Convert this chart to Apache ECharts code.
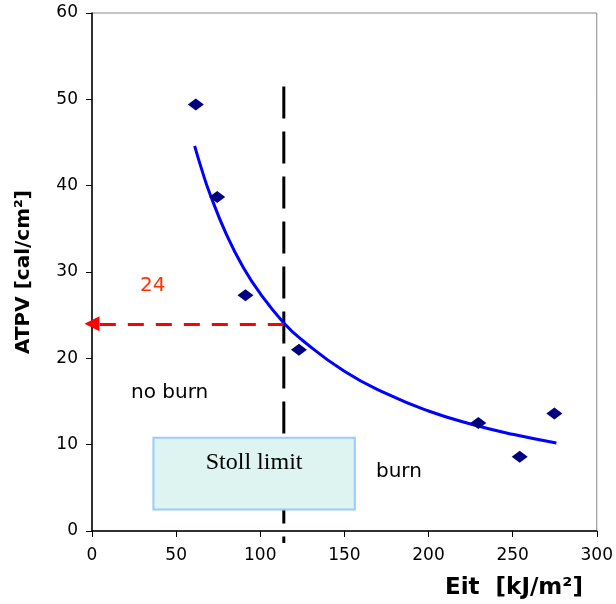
<!DOCTYPE html>
<html>
<head>
<meta charset="utf-8">
<script src="https://cdn.jsdelivr.net/npm/echarts@6/dist/echarts.min.js"></script>
<style>
  html, body { margin: 0; padding: 0; background: #fff; }
  #main { width: 616px; height: 604px; }
</style>
</head>
<body>
<div id="main"></div>
<script>
// measured points (Eit, ATPV)
var eitValues = [61.7, 74.4, 91.2, 123, 229.6, 254.2, 274.8];
var atpvValues = [49.4, 38.7, 27.3, 21.0, 12.5, 8.6, 13.6];

// fitted trend line
var fitX = [61, 65, 70, 80, 90, 100, 114, 125, 150, 175, 200, 225, 250, 276];
var fitY = [44.6, 42.0, 39.1, 34.3, 30.5, 27.5, 24.1, 22.1, 18.5, 15.9, 13.9, 12.4, 11.2, 10.2];

// Stoll limit reference
var stollX = [114, 114];
var stollY = [51.5, -1.4];
var atpvAtLimit = 24;
var stollBox = [[36.5, 10.8], [156.2, 2.5]];

var xTicks = [0, 300, 50];
var yTicks = [0, 60, 10];

var sans = 'DejaVu Sans';

var myChart = echarts.init(document.getElementById('main'));

myChart.setOption({
    animation: false,
    grid: {
        left: 92, right: 16, top: 13, bottom: 73,
        show: true, borderColor: '#888', borderWidth: 1
    },
    xAxis: {
        type: 'value',
        min: xTicks[0], max: xTicks[1], interval: xTicks[2],
        splitLine: { show: false },
        axisLine: { lineStyle: { color: '#000', width: 1.5 } },
        axisTick: { length: 6, lineStyle: { color: '#000' } },
        axisLabel: { color: '#000', fontFamily: sans, fontSize: 17, margin: 16 }
    },
    yAxis: {
        type: 'value',
        min: yTicks[0], max: yTicks[1], interval: yTicks[2],
        name: 'ATPV [cal/cm²]',
        nameLocation: 'middle',
        nameGap: 58,
        nameTextStyle: { color: '#000', fontFamily: sans, fontWeight: 'bold', fontSize: 20 },
        splitLine: { show: false },
        axisLine: { lineStyle: { color: '#000', width: 1.5 } },
        axisTick: { length: 6, lineStyle: { color: '#000' } },
        axisLabel: { color: '#000', fontFamily: sans, fontSize: 17, margin: 14 }
    },
    graphic: [
        { type: 'text', left: 445, top: 577,
          style: { text: 'Eit  [kJ/m²]', fill: '#000', font: 'bold 23px "DejaVu Sans"' } },
        { type: 'text', left: 140, top: 276,
          style: { text: String(atpvAtLimit), fill: '#FF3300', font: '20px "DejaVu Sans"' } },
        { type: 'text', left: 131, top: 383,
          style: { text: 'no burn', fill: '#000', font: '20px "DejaVu Sans"' } },
        { type: 'text', left: 376, top: 462,
          style: { text: 'burn', fill: '#000', font: '20px "DejaVu Sans"' } }
    ],
    series: [
        {
            // vertical Stoll limit line, runs a little below the axis
            type: 'line',
            z: 2,
            clip: false,
            silent: true,
            showSymbol: false,
            data: stollX.map(function (x, i) { return [x, stollY[i]]; }),
            lineStyle: { color: '#000', width: 3, type: [32, 13] },
            markLine: {
                silent: true,
                z: 5,
                animation: false,
                label: { show: false },
                data: [[
                    { coord: [stollX[0], atpvAtLimit], symbol: 'none' },
                    { coord: [0, atpvAtLimit], symbol: 'triangle', symbolSize: [15, 15],
                      lineStyle: { color: '#FF0000', width: 3, type: [16, 12] },
                      itemStyle: { color: '#FF0000' } }
                ]]
            },
            markArea: {
                silent: true,
                z: 10,
                itemStyle: { color: '#DDF4F0', borderColor: '#99CCFF', borderWidth: 2 },
                label: {
                    show: true, position: 'insideTop', distance: 14,
                    color: '#000', fontFamily: 'Liberation Serif', fontSize: 24
                },
                data: [[
                    { name: 'Stoll limit', coord: stollBox[0] },
                    { coord: stollBox[1] }
                ]]
            }
        },
        {
            type: 'line',
            z: 3,
            data: fitX.map(function (x, i) { return [x, fitY[i]]; }),
            smooth: true,
            showSymbol: false,
            lineStyle: { color: '#0000FF', width: 3 }
        },
        {
            type: 'scatter',
            z: 4,
            data: eitValues.map(function (x, i) { return [x, atpvValues[i]]; }),
            symbol: 'diamond',
            symbolSize: [16, 12],
            itemStyle: { color: '#000080', opacity: 1 }
        }
    ]
});
</script>
</body>
</html>
